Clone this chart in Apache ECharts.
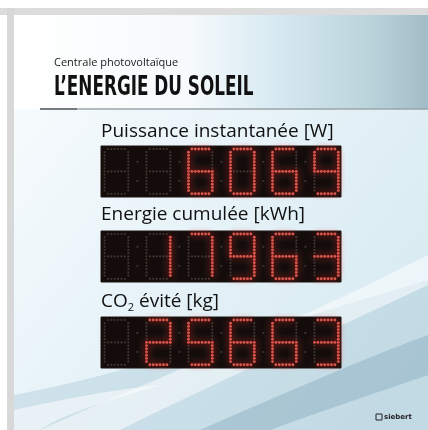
<!DOCTYPE html>
<html>
<head>
<meta charset="utf-8">
<title>L'Energie du soleil</title>
<style>
  html, body { margin: 0; padding: 0; background: #fff; }
  #main { width: 428px; height: 430px; }
</style>
<script src="https://cdn.jsdelivr.net/npm/echarts@6/dist/echarts.min.js"></script>
</head>
<body>
<div id="main"></div>
<script>
"use strict";

// what the three displays show
var labels = ["Puissance instantanée [W]", "Energie cumulée [kWh]", "CO₂ évité [kg]"];
var values = [6069, 17963, 25663];
var digitCount = 6;

// seven segment patterns
var digitSegments = {
  "0": "abcdef", "1": "bc", "2": "abdeg", "3": "abcdg", "4": "bcfg",
  "5": "acdfg", "6": "acdefg", "7": "abc", "8": "abcdefg", "9": "abcdfg"
};
// segment -> [col0,row0,col1,row1] on a 7 x 14 dot grid
var segmentLines = {
  a: [0, 0, 7, 0], b: [7, 0, 7, 7], c: [7, 7, 7, 14], d: [0, 14, 7, 14],
  e: [0, 7, 0, 14], f: [0, 0, 0, 7], g: [0, 7, 7, 7]
};

var DOT_X = 3.4, DOT_Y = 3.2, DIGIT_STEP = 42, LEFT_PAD = 3.5, TOP_PAD = 3;

function segmentDots(seg) {
  var l = segmentLines[seg], pts = [];
  for (var cx = l[0]; cx <= l[2]; cx++) {
    for (var ry = l[1]; ry <= l[3]; ry++) {
      // round off the outer corners
      if ((cx === 0 || cx === 7) && (ry === 0 || ry === 14)) continue;
      pts.push(cx + "," + ry);
    }
  }
  return pts;
}

function displayDots(value) {
  var text = String(value);
  while (text.length < digitCount) text = " " + text;
  var dim = [], lit = [];
  for (var p = 0; p < digitCount; p++) {
    var ch = text.charAt(p);
    var on = {};
    (digitSegments[ch] || "").split("").forEach(function (s) {
      segmentDots(s).forEach(function (k) { on[k] = true; });
    });
    var seen = {};
    "abcdefg".split("").forEach(function (s) {
      segmentDots(s).forEach(function (k) {
        if (seen[k]) return;
        seen[k] = true;
        var c = k.split(",");
        var pt = [LEFT_PAD + p * DIGIT_STEP + c[0] * DOT_X, TOP_PAD + c[1] * DOT_Y];
        (on[k] ? lit : dim).push(pt);
      });
    });
    // separator dots between digits
    if (p < digitCount - 1) {
      var sx = LEFT_PAD + p * DIGIT_STEP + 7 * DOT_X + (DIGIT_STEP - 7 * DOT_X) / 2;
      dim.push([sx, TOP_PAD + 4 * DOT_Y], [sx, TOP_PAD + 10 * DOT_Y]);
    }
  }
  return { dim: dim, lit: lit };
}

// cubic bezier sampled into polygon points (background decoration only)
function bez(p0, p1, p2, p3) {
  var out = [];
  for (var i = 0; i <= 20; i++) {
    var t = i / 20, u = 1 - t;
    out.push([
      u * u * u * p0[0] + 3 * u * u * t * p1[0] + 3 * u * t * t * p2[0] + t * t * t * p3[0],
      u * u * u * p0[1] + 3 * u * u * t * p1[1] + 3 * u * t * t * p2[1] + t * t * t * p3[1]
    ]);
  }
  return out;
}

var displayTops = [146, 231, 317];
var labelBaselines = [139, 222, 309];

var grids = [], xAxes = [], yAxes = [], series = [];
values.forEach(function (v, i) {
  grids.push({
    left: 101, top: displayTops[i], width: 240, height: 51,
    show: true, backgroundColor: "#140c0b", borderColor: "#1c1412", borderWidth: 1
  });
  xAxes.push({ type: "value", gridIndex: i, min: 0, max: 240, show: false });
  yAxes.push({ type: "value", gridIndex: i, min: 0, max: 51, inverse: true, show: false });
  var d = displayDots(v);
  series.push({
    type: "scatter", xAxisIndex: i, yAxisIndex: i, data: d.dim,
    symbolSize: 2.2, silent: true,
    itemStyle: { color: "#4a403c" }
  });
  series.push({
    type: "scatter", xAxisIndex: i, yAxisIndex: i, data: d.lit,
    symbolSize: 2.9, silent: true,
    itemStyle: { color: "#ff6a5e", shadowBlur: 6, shadowColor: "rgba(255,30,20,1)" }
  });
});

var graphics = [
  // frame
  { type: "rect", z: -20, shape: { x: 0, y: 8, width: 428, height: 7 }, style: { fill: "#dcdcdc" } },
  { type: "rect", z: -20, shape: { x: 7, y: 8, width: 7, height: 422 }, style: { fill: "#d8d8d8" } },
  // panel
  {
    type: "rect", z: -19, shape: { x: 14, y: 15, width: 414, height: 94 },
    style: { fill: new echarts.graphic.LinearGradient(0, 0, 1, 0, [
      { offset: 0, color: "#ffffff" }, { offset: 0.42, color: "#f6fafc" },
      { offset: 0.62, color: "#d9ebf2" }, { offset: 0.85, color: "#bcd4dc" },
      { offset: 1, color: "#a2bdc7" }]) }
  },
  {
    type: "rect", z: -19, shape: { x: 14, y: 109, width: 414, height: 321 },
    style: { fill: new echarts.graphic.LinearGradient(0, 0, 1, 1, [
      { offset: 0, color: "#f7fbfd" }, { offset: 0.5, color: "#e3f1f7" },
      { offset: 1, color: "#d3e7ef" }]) }
  },
  // swooshes
  { type: "polygon", z: -18, shape: { points: [[14, 430]].concat(bez([14, 395], [120, 375], [260, 330], [428, 280])).concat([[428, 430]]) },
    style: { fill: "rgba(150,185,203,0.3)" } },
  { type: "polygon", z: -18, shape: { points: bez([40, 430], [140, 385], [280, 330], [428, 255]).concat(bez([428, 285], [300, 345], [190, 395], [120, 430])) },
    style: { fill: "rgba(255,255,255,0.5)" } },
  { type: "polygon", z: -18, shape: { points: bez([200, 430], [280, 395], [360, 360], [428, 335]).concat(bez([428, 375], [370, 395], [310, 415], [270, 430])) },
    style: { fill: "rgba(105,145,168,0.3)" } },
  { type: "polygon", z: -18, shape: { points: [[14, 430]].concat(bez([14, 410], [60, 400], [110, 390], [160, 385])).concat(bez([160, 385], [110, 400], [60, 415], [40, 430])) },
    style: { fill: "rgba(255,255,255,0.55)" } },
  // header
  { type: "text", style: { text: "Centrale photovoltaïque", x: 54, y: 63, font: "11px 'Open Sans'", fill: "#1a1a1a", verticalAlign: "middle" } },
  { type: "text", scaleX: 0.72, x: 54, y: 88, style: { text: "L’ENERGIE DU SOLEIL", x: 0, y: 0, font: "bold 26px 'Liberation Sans Narrow', 'DejaVu Sans Condensed', sans-serif", fill: "#111", verticalAlign: "middle" } },
  { type: "line", shape: { x1: 77, y1: 109, x2: 428, y2: 109 }, style: { stroke: "#9ba5a9", lineWidth: 1.5 } },
  { type: "line", shape: { x1: 40, y1: 109, x2: 77, y2: 109 }, style: { stroke: "#4a4f52", lineWidth: 1.5 } },
  // logo
  { type: "rect", shape: { x: 376, y: 414, width: 6, height: 6 }, style: { fill: "none", stroke: "#222", lineWidth: 1 } },
  { type: "text", style: { text: "siebert", x: 384, y: 417, font: "bold 7px 'DejaVu Sans'", fill: "#222", verticalAlign: "middle" } }
];

labels.forEach(function (t, i) {
  var style = { x: 101, y: labelBaselines[i] - 7, fill: "#111", verticalAlign: "middle", font: "19px 'Open Sans'" };
  if (t.indexOf("₂") >= 0) {
    var parts = t.split("₂");
    style.text = "{n|" + parts[0] + "}{s|2}{n|" + parts[1] + "}";
    style.rich = {
      n: { fontFamily: "Open Sans", fontSize: 19, fill: "#111" },
      s: { fontFamily: "Open Sans", fontSize: 11, fill: "#111", padding: [11, 0, 0, 0] }
    };
  } else {
    style.text = t;
  }
  graphics.push({ type: "text", style: style });
});

var chart = echarts.init(document.getElementById("main"));
chart.setOption({
  animation: false,
  backgroundColor: "#ffffff",
  grid: grids,
  xAxis: xAxes,
  yAxis: yAxes,
  series: series,
  graphic: graphics
});
</script>
</body>
</html>
